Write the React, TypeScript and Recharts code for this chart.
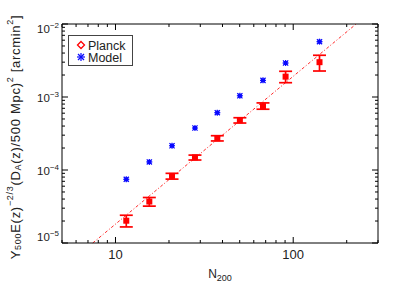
import React from "react";
import {
  ScatterChart,
  Scatter,
  XAxis,
  YAxis,
  ErrorBar,
  ReferenceLine,
  Legend,
} from "recharts";

// richness bins (N200)
const nBins = [11.5, 15.5, 20.8, 28.0, 37.4, 50.1, 67.6, 90.6, 140.6];

// Planck stacked measurements + 1-sigma bounds
const planckY = [2.02e-5, 3.7e-5, 8.3e-5, 1.49e-4, 2.72e-4, 4.8e-4, 7.5e-4, 1.9e-3, 3.0e-3];
const planckLo = [1.66e-5, 3.2e-5, 7.5e-5, 1.37e-4, 2.5e-4, 4.4e-4, 6.8e-4, 1.57e-3, 2.27e-3];
const planckHi = [2.4e-5, 4.2e-5, 9.0e-5, 1.6e-4, 2.95e-4, 5.2e-4, 8.3e-4, 2.25e-3, 3.73e-3];

// model prediction
const modelY = [7.45e-5, 1.29e-4, 2.15e-4, 3.76e-4, 6.1e-4, 1.04e-3, 1.69e-3, 2.92e-3, 5.73e-3];

// dash-dot fit line end points
const fitN = [7.45, 226];
const fitY = [1e-5, 1e-2];

// axis ticks
const xMajor = [10, 100];
const xMinor = [5, 6, 7, 8, 9, 20, 30, 40, 50, 60, 70, 80, 90, 200, 300];
const yMajor = [1e-5, 1e-4, 1e-3, 1e-2];
const yMajorExp = ["\u22125", "\u22124", "\u22123", "\u22122"];
const yMinorMult = [2, 3, 4, 5, 6, 7, 8, 9];

const W = 409;
const H = 292;
// axes take 1px each, so plot box is 62..378 x 24..243
const M = { top: 23, right: 30, bottom: 48, left: 61 };
const PLOT_TOP = 24;
const PLOT_BOTTOM = 243;
const FONT = "'Liberation Sans', Arial, Helvetica, sans-serif";
const RED = "#ff0000";
const BLUE = "#0a0aff";

const planckData = nBins.map((n, i) => ({
  n,
  y: planckY[i],
  err: [planckY[i] - planckLo[i], planckHi[i] - planckY[i]],
}));
const modelData = nBins.map((n, i) => ({ n, y: modelY[i] }));

const xTicks = [...xMinor, ...xMajor].sort((a, b) => a - b);
const yTicks: number[] = [];
yMajor.forEach((d, i) => {
  yTicks.push(d);
  if (i < yMajor.length - 1) yMinorMult.forEach((m) => yTicks.push(m * d));
});

const isMajorX = (v: number) => xMajor.includes(v);
const majorYIndex = (v: number) =>
  yMajor.findIndex((d) => Math.abs(v / d - 1) < 1e-6);

const XTickBottom = ({ x, y, payload }: any) => {
  const major = isMajorX(payload.value);
  return (
    <g>
      <line x1={x} x2={x} y1={y} y2={y - (major ? 6 : 3)} stroke="#000" />
      {major && (
        <text x={x} y={y + 16} textAnchor="middle" fontSize={13} fill="#222" fontFamily={FONT}>
          {payload.value}
        </text>
      )}
    </g>
  );
};

const XTickTop = ({ x, y, payload }: any) => {
  const major = isMajorX(payload.value);
  return <line x1={x} x2={x} y1={y} y2={y + (major ? 6 : 3)} stroke="#000" />;
};

const YTickLeft = ({ x, y, payload }: any) => {
  const idx = majorYIndex(payload.value);
  const major = idx >= 0;
  const ly = Math.min(Math.max(y + 4.5, PLOT_TOP + 9), PLOT_BOTTOM - 2);
  return (
    <g>
      <line x1={x} x2={x + (major ? 6 : 3)} y1={y} y2={y} stroke="#000" />
      {major && (
        <text x={x - 3} y={ly} textAnchor="end" fontSize={11.5} fill="#222" fontFamily={FONT}>
          <tspan>10</tspan>
          <tspan dy={-5} fontSize={8}>
            {yMajorExp[idx]}
          </tspan>
        </text>
      )}
    </g>
  );
};

const YTickRight = ({ x, y, payload }: any) => {
  const major = majorYIndex(payload.value) >= 0;
  return <line x1={x} x2={x - (major ? 6 : 3)} y1={y} y2={y} stroke="#000" />;
};

const PlanckMark = ({ cx, cy }: any) => (
  <rect x={cx - 3} y={cy - 3} width={6} height={6} fill={RED} />
);

const ModelMark = ({ cx, cy }: any) => (
  <g stroke={BLUE} strokeWidth={1.2}>
    <rect x={cx - 2} y={cy - 2} width={4} height={4} fill={BLUE} stroke="none" />
    <line x1={cx - 3} x2={cx + 3} y1={cy} y2={cy} />
    <line x1={cx} x2={cx} y1={cy - 3} y2={cy + 3} />
    <line x1={cx - 2.6} y1={cy - 2.6} x2={cx + 2.6} y2={cy + 2.6} />
    <line x1={cx - 2.6} y1={cy + 2.6} x2={cx + 2.6} y2={cy - 2.6} />
  </g>
);

const YLabel = () => {
  const cx = 15;
  const cy = 137;
  return (
    <text
      x={cx}
      y={cy}
      transform={`rotate(-90 ${cx} ${cy})`}
      textAnchor="middle"
      dominantBaseline="central"
      fontSize={13}
      letterSpacing={0.7}
      fill="#222"
      fontFamily={FONT}
    >
      <tspan>Y</tspan>
      <tspan dy={3} fontSize={9}>500</tspan>
      <tspan dy={-3}>E(z)</tspan>
      <tspan dy={-5} fontSize={9}>{"\u22122/3"}</tspan>
      <tspan dy={5}>(D</tspan>
      <tspan dy={3} fontSize={9}>A</tspan>
      <tspan dy={-3}>(z)/500 Mpc)</tspan>
      <tspan dy={-5} fontSize={9}>2</tspan>
      <tspan dy={5}> [arcmin</tspan>
      <tspan dy={-5} fontSize={9}>2</tspan>
      <tspan dy={5}>]</tspan>
    </text>
  );
};

const XLabel = () => (
  <text x={220} y={PLOT_BOTTOM + 35} textAnchor="middle" fontSize={12} fill="#222" fontFamily={FONT}>
    <tspan>N</tspan>
    <tspan dy={3} fontSize={9}>200</tspan>
  </text>
);

const LegendBox = () => (
  <svg width={66} height={32} style={{ display: "block" }}>
    <rect x={0.5} y={0.5} width={64} height={30} fill="#fff" stroke="#444" />
    <polygon points="13,6.5 16.5,10 13,13.5 9.5,10" fill="none" stroke={RED} strokeWidth={1.3} />
    <text x={20} y={14.5} fontSize={12.5} fill="#222" fontFamily={FONT}>
      Planck
    </text>
    <g stroke={BLUE} strokeWidth={1.2}>
      <line x1={9} x2={17} y1={22} y2={22} />
      <line x1={13} x2={13} y1={18} y2={26} />
      <line x1={10} y1={19} x2={16} y2={25} />
      <line x1={10} y1={25} x2={16} y2={19} />
    </g>
    <text x={20} y={27} fontSize={12.5} fill="#222" fontFamily={FONT}>
      Model
    </text>
  </svg>
);

export default function App() {
  return (
    <div style={{ position: "absolute", left: 0, top: 0, width: W, height: H, background: "#fff" }}>
      <ScatterChart width={W} height={H} margin={M}>
        <XAxis
          xAxisId="b"
          type="number"
          dataKey="n"
          scale="log"
          domain={[5, 300]}
          allowDataOverflow
          ticks={xTicks}
          interval={0}
          height={1}
          tickSize={0}
          tickMargin={0}
          tickLine={false}
          tick={<XTickBottom />}
          axisLine={{ stroke: "#000" }}
          label={<XLabel />}
        />
        <XAxis
          xAxisId="t"
          orientation="top"
          type="number"
          dataKey="n"
          scale="log"
          domain={[5, 300]}
          allowDataOverflow
          ticks={xTicks}
          interval={0}
          height={1}
          tickSize={0}
          tickMargin={0}
          tickLine={false}
          tick={<XTickTop />}
          axisLine={{ stroke: "#000" }}
        />
        <YAxis
          yAxisId="l"
          type="number"
          dataKey="y"
          scale="log"
          domain={[1e-5, 1e-2]}
          allowDataOverflow
          ticks={yTicks}
          interval={0}
          width={1}
          tickSize={0}
          tickMargin={0}
          tickLine={false}
          tick={<YTickLeft />}
          axisLine={{ stroke: "#000" }}
          label={<YLabel />}
        />
        <YAxis
          yAxisId="r"
          orientation="right"
          type="number"
          dataKey="y"
          scale="log"
          domain={[1e-5, 1e-2]}
          allowDataOverflow
          ticks={yTicks}
          interval={0}
          width={1}
          tickSize={0}
          tickMargin={0}
          tickLine={false}
          tick={<YTickRight />}
          axisLine={{ stroke: "#000" }}
        />
        <Legend
          layout="vertical"
          align="center"
          verticalAlign="middle"
          wrapperStyle={{ left: 68, top: 35, width: 66, height: 32 }}
          content={() => <LegendBox />}
        />
        <ReferenceLine
          xAxisId="b"
          yAxisId="l"
          segment={[
            { x: fitN[0], y: fitY[0] },
            { x: fitN[1], y: fitY[1] },
          ]}
          stroke="#ff2a2a"
          strokeWidth={1}
          strokeDasharray="3 2 1 2"
        />
        <Scatter
          name="Model"
          xAxisId="b"
          yAxisId="l"
          data={modelData}
          shape={<ModelMark />}
          isAnimationActive={false}
        />
        <Scatter
          name="Planck"
          xAxisId="b"
          yAxisId="l"
          data={planckData}
          shape={<PlanckMark />}
          isAnimationActive={false}
        >
          <ErrorBar dataKey="err" direction="y" width={6.5} stroke={RED} strokeWidth={1.7} isAnimationActive={false} />
        </Scatter>
      </ScatterChart>
    </div>
  );
}
